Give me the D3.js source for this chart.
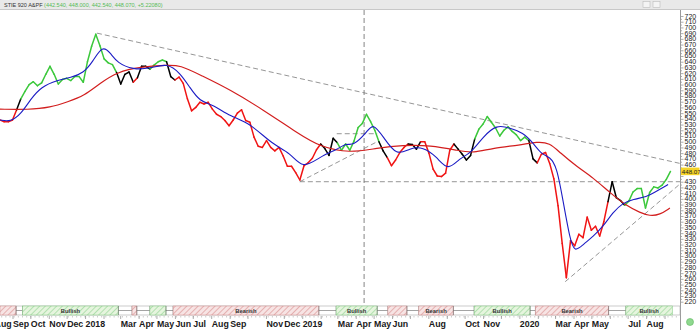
<!DOCTYPE html>
<html>
<head>
<meta charset="utf-8">
<script src="https://cdn.jsdelivr.net/npm/d3@7"></script>
<style>
  body { margin: 0; background: #fff; }
  svg { display: block; font-family: "Liberation Sans", Arial, sans-serif; }
</style>
</head>
<body>
<svg id="chart" width="700" height="330"></svg>
<script>
// weekly closes, first week ending 2017-08-11
const priceStart = "2017-08-11";
const priceWeekly = [
  538, 535, 535, 538, 556, 575, 588, 600, 605, 598,
  603, 618, 632, 618, 601, 609, 611, 607, 614, 614,
  604, 640, 667, 688, 668, 645, 638, 635, 621, 601,
  618, 622, 604, 612, 632, 632, 627, 634, 640, 643,
  640, 614, 608, 613, 602, 575, 554, 560, 569, 566,
  569, 557, 548, 544, 537, 528, 538, 550, 556, 537,
  534, 508, 492, 490, 502, 490, 484, 490, 475, 457,
  457, 446, 433, 458, 463, 471, 486, 496, 488, 476,
  506, 498, 485, 496, 485, 501, 525, 532, 548, 535,
  520, 500, 484, 472, 458, 468, 481, 490, 496, 495,
  487, 500, 500, 480, 452, 440, 439, 445, 485, 496,
  487, 478, 468, 476, 505, 522, 531, 544, 534, 524,
  510, 520, 526, 518, 512, 502, 508, 502, 470, 463,
  478, 481, 462, 435, 388, 322, 262, 327, 318, 338,
  332, 368, 345, 352, 335, 360, 395, 430, 402, 397,
  389, 396, 412, 418, 418, 384, 411, 421, 419, 424,
  434, 448
];

// trend regimes (start date, type) - each runs until the next one starts
const regimeStarts = [
  "2017-08-11", "2017-09-07", "2017-09-18", "2018-02-26", "2018-03-21",
  "2018-03-29", "2018-04-20", "2018-05-17", "2018-05-29", "2019-01-29",
  "2019-02-27", "2019-05-07", "2019-05-25", "2019-06-26", "2019-07-16",
  "2019-09-12", "2019-10-17", "2020-01-19", "2020-01-28", "2020-05-30",
  "2020-06-28"
];
const regimeTypes = [
  "bear", "flat", "bull", "flat", "bear",
  "flat", "bull", "flat", "bear", "flat",
  "bull", "flat", "bear", "flat", "bear",
  "flat", "bull", "flat", "bear", "flat",
  "bull"
];
const regimeEnd = "2020-09-14";

// long moving average (red)
const slowMaDates = [
  "2017-08-11", "2017-09-27", "2017-11-04", "2017-12-03", "2017-12-30",
  "2018-01-27", "2018-02-24", "2018-04-04", "2018-05-19", "2018-06-10",
  "2018-07-13", "2018-09-02", "2018-10-27", "2018-12-23", "2019-01-31",
  "2019-03-22", "2019-05-07", "2019-06-19", "2019-08-04", "2019-09-23",
  "2019-10-15", "2019-11-18", "2020-01-02", "2020-01-31", "2020-02-21",
  "2020-03-09", "2020-04-07", "2020-05-04", "2020-06-01", "2020-06-30",
  "2020-07-22", "2020-08-07", "2020-08-24", "2020-09-10"
];
const slowMaValues = [
  557, 556, 560, 570, 580,
  603, 622, 631, 634, 634,
  617, 591, 556, 516, 491,
  480, 489, 494, 494, 484,
  480, 489, 494, 500, 498,
  481, 456, 437, 411, 387,
  376, 370, 372, 384
];

// short moving average (blue)
const fastMaDates = [
  "2017-08-11", "2017-08-29", "2017-09-15", "2017-10-02", "2017-10-19",
  "2017-11-16", "2017-12-08", "2017-12-29", "2018-01-14", "2018-01-30",
  "2018-02-13", "2018-02-24", "2018-03-23", "2018-04-20", "2018-05-19",
  "2018-06-10", "2018-06-26", "2018-07-13", "2018-08-04", "2018-09-02",
  "2018-10-05", "2018-11-13", "2018-12-11", "2019-01-02", "2019-01-31",
  "2019-02-28", "2019-03-17", "2019-03-27", "2019-04-20", "2019-04-30",
  "2019-05-17", "2019-06-09", "2019-07-01", "2019-07-23", "2019-08-15",
  "2019-09-03", "2019-09-23", "2019-10-10", "2019-11-01", "2019-11-24",
  "2019-12-16", "2020-01-07", "2020-01-24", "2020-02-08", "2020-02-21",
  "2020-03-04", "2020-03-14", "2020-03-26", "2020-04-03", "2020-04-17",
  "2020-05-04", "2020-05-21", "2020-06-06", "2020-06-23", "2020-07-10",
  "2020-08-03", "2020-08-13", "2020-09-07"
];
const fastMaValues = [
  538, 535, 548, 575, 596,
  608, 612, 620, 640, 669,
  655, 638, 626, 628, 638,
  620, 595, 570, 565, 544,
  533, 494, 482, 451, 474,
  486, 498, 492, 517, 533,
  509, 474, 489, 491, 474,
  448, 472, 478, 509, 530,
  524, 516, 498, 477, 474,
  456, 399, 329, 306, 320,
  334, 352, 376, 393, 399,
  404, 410, 425
];

// hand drawn trend lines
const trendLines = [
  { from: ["2018-01-21", 690], to: ["2020-09-27", 462] },
  { from: ["2018-12-28", 430], to: ["2020-09-27", 430] },
  { from: ["2018-12-28", 430], to: ["2019-05-07", 500] },
  { from: ["2019-02-28", 514], to: ["2019-05-07", 514] },
  { from: ["2020-03-18", 255], to: ["2020-09-27", 426] }
];
const markerDate = "2019-04-15";

const yTicks = d3.range(220, 721, 10);
const monthTickDates = [
  "2017-08-01", "2017-09-01", "2017-10-01", "2017-11-01", "2017-12-01", "2018-01-01",
  "2018-03-01", "2018-04-01", "2018-05-01", "2018-06-01", "2018-07-01", "2018-08-01",
  "2018-09-01", "2018-11-01", "2018-12-01", "2019-01-01", "2019-03-01", "2019-04-01",
  "2019-05-01", "2019-06-01", "2019-08-01", "2019-10-01", "2019-11-01", "2020-01-01",
  "2020-03-01", "2020-04-01", "2020-05-01", "2020-07-01", "2020-08-01"
];
const monthTickLabels = [
  "Aug", "Sep", "Oct", "Nov", "Dec", "2018",
  "Mar", "Apr", "May", "Jun", "Jul", "Aug",
  "Sep", "Nov", "Dec", "2019", "Mar", "Apr",
  "May", "Jun", "Aug", "Oct", "Nov", "2020",
  "Mar", "Apr", "May", "Jul", "Aug"
];
const titleName = "STIE 920 A&PF";
const titleValues = "(442.540, 448.000, 442.540, 448.070, +5.22080)";
const lastValue = 448.07;

const parse = d3.timeParse("%Y-%m-%d");

// === CONFIG ===
const W = 700, H = 330;
const plotL = 0, plotR = 680, plotT = 10, plotB = 305;
const bandT = 306, bandB = 315;

const colors = { bull: "#3cc83c", bear: "#f01414", flat: "#000000" };

const svg = d3.select("#chart");

const x = d3.scaleTime()
  .domain([parse("2017-08-11"), parse("2020-09-27")])
  .range([plotL, plotR]);
const y = d3.scaleLinear()
  .domain([220, 720])
  .range([301.7, 16]);

// --- patterns for the regime band
const defs = svg.append("defs");
function hatch(id, bg, fg) {
  const p = defs.append("pattern")
    .attr("id", id)
    .attr("patternUnits", "userSpaceOnUse")
    .attr("width", 4).attr("height", 4)
    .attr("patternTransform", "rotate(45)");
  p.append("rect").attr("width", 4).attr("height", 4).attr("fill", bg);
  p.append("line").attr("x1", 0).attr("y1", 0).attr("x2", 0).attr("y2", 4)
    .attr("stroke", fg).attr("stroke-width", 1.4);
}
hatch("hatchBull", "#e6f5de", "#9cd89c");
hatch("hatchBear", "#f7e4e4", "#dc9a9a");

defs.append("clipPath").attr("id", "plotClip")
  .append("rect")
  .attr("x", plotL).attr("y", plotT)
  .attr("width", plotR - plotL).attr("height", plotB - plotT);

// --- header strip
svg.append("rect").attr("x", 0).attr("y", 0).attr("width", W).attr("height", 9)
  .attr("fill", "#e9e9e9");
svg.append("line").attr("x1", 0).attr("x2", W).attr("y1", 9.5).attr("y2", 9.5)
  .attr("stroke", "#c8c8c8");
const title = svg.append("text").attr("x", 4).attr("y", 7)
  .attr("font-size", 5.5);
title.append("tspan").attr("fill", "#333").text(titleName + " ");
title.append("tspan").attr("fill", "#55bb55").text(titleValues);
// window buttons top right
[643, 653].forEach(bx => {
  svg.append("rect").attr("x", bx).attr("y", 1.5).attr("width", 7).attr("height", 6)
    .attr("fill", "#f4f4f4").attr("stroke", "#bdbdbd").attr("stroke-width", 0.6);
});

// --- data objects
const prices = priceWeekly.map((v, i) => ({
  date: d3.timeWeek.offset(parse(priceStart), i),
  value: v
}));
const regimes = regimeStarts.map((s, i) => ({
  start: parse(s),
  end: parse(i + 1 < regimeStarts.length ? regimeStarts[i + 1] : regimeEnd),
  type: regimeTypes[i]
}));
function regimeAt(date) {
  const r = regimes.find(r => date >= r.start && date < r.end);
  return r ? r.type : regimes[regimes.length - 1].type;
}

const plot = svg.append("g").attr("clip-path", "url(#plotClip)");

// --- trend lines and marker
trendLines.forEach(t => {
  plot.append("line")
    .attr("x1", x(parse(t.from[0]))).attr("y1", y(t.from[1]))
    .attr("x2", x(parse(t.to[0]))).attr("y2", y(t.to[1]))
    .attr("stroke", "#8a8a8a").attr("stroke-width", 0.9)
    .attr("stroke-dasharray", "5,3");
});
plot.append("line")
  .attr("x1", x(parse(markerDate))).attr("x2", x(parse(markerDate)))
  .attr("y1", plotT).attr("y2", plotB)
  .attr("stroke", "#777").attr("stroke-width", 0.9)
  .attr("stroke-dasharray", "5,3");

// --- moving averages
const maLine = d3.line()
  .x(d => x(d.date)).y(d => y(d.value))
  .curve(d3.curveBasis);
const slowMa = slowMaDates.map((d, i) => ({ date: parse(d), value: slowMaValues[i] }));
const fastMa = fastMaDates.map((d, i) => ({ date: parse(d), value: fastMaValues[i] }));

// --- price, coloured by regime
const segs = d3.pairs(prices);
plot.append("g").selectAll("line")
  .data(segs)
  .join("line")
    .attr("x1", d => x(d[0].date)).attr("y1", d => y(d[0].value))
    .attr("x2", d => x(d[1].date)).attr("y2", d => y(d[1].value))
    .attr("stroke", d => colors[regimeAt(new Date((+d[0].date + +d[1].date) / 2))])
    .attr("stroke-width", 1.5)
    .attr("stroke-linecap", "round");

plot.append("path").datum(slowMa)
  .attr("d", maLine).attr("fill", "none")
  .attr("stroke", "#d21e1e").attr("stroke-width", 1.2);
plot.append("path").datum(fastMa)
  .attr("d", maLine).attr("fill", "none")
  .attr("stroke", "#1c1cc4").attr("stroke-width", 1.1);

// --- right axis
const axis = svg.append("g");
axis.append("line").attr("x1", plotR + 0.5).attr("x2", plotR + 0.5)
  .attr("y1", plotT).attr("y2", H).attr("stroke", "#9a9a9a");
d3.range(220, 721, 5).forEach(v => {
  axis.append("line")
    .attr("x1", plotR + 1).attr("x2", plotR + (v % 10 === 0 ? 3.5 : 2))
    .attr("y1", y(v) + 0.5).attr("y2", y(v) + 0.5)
    .attr("stroke", "#777").attr("stroke-width", 0.6);
});
// labels hidden behind the last value flag are left out, as in the source
axis.selectAll("text.ytick")
  .data(yTicks.filter(v => Math.abs(v - lastValue) > 9))
  .join("text")
    .attr("class", "ytick")
    .attr("x", plotR + 4.5).attr("y", d => y(d) + 2.5)
    .attr("font-size", 7).attr("fill", "#222")
    .text(d => d);

// last value flag
const lv = axis.append("g").attr("transform", `translate(${plotR + 1},${y(lastValue)})`);
lv.append("rect").attr("x", 0).attr("y", -3.8).attr("width", 18.5).attr("height", 7.6)
  .attr("fill", "#f5d327");
lv.append("text").attr("x", 0.8).attr("y", 2.3).attr("font-size", 6.2)
  .attr("fill", "#222").text(lastValue.toFixed(2));

// --- regime band
const band = svg.append("g");
band.append("rect").attr("x", plotL).attr("y", bandT)
  .attr("width", plotR - plotL).attr("height", bandB - bandT)
  .attr("fill", "#fff").attr("stroke", "#a8a8a8").attr("stroke-width", 0.6);
regimes.forEach(r => {
  const x0 = Math.max(plotL, x(r.start)), x1 = x(r.end);
  if (r.type === "flat") {
    band.append("line").attr("x1", x0).attr("x2", x1)
      .attr("y1", (bandT + bandB) / 2).attr("y2", (bandT + bandB) / 2)
      .attr("stroke", "#666").attr("stroke-width", 0.6);
    [x0, x1].forEach(xx => band.append("line")
      .attr("x1", xx).attr("x2", xx).attr("y1", bandT).attr("y2", bandB)
      .attr("stroke", "#666").attr("stroke-width", 0.6));
    return;
  }
  band.append("rect").attr("x", x0).attr("y", bandT)
    .attr("width", x1 - x0).attr("height", bandB - bandT)
    .attr("fill", r.type === "bull" ? "url(#hatchBull)" : "url(#hatchBear)")
    .attr("stroke", r.type === "bull" ? "#7cc77c" : "#d08a8a")
    .attr("stroke-width", 0.5);
  if (x1 - x0 > 25) {
    band.append("text")
      .attr("x", (x0 + x1) / 2).attr("y", bandB - 2.5)
      .attr("text-anchor", "middle")
      .attr("font-size", 5.8).attr("font-weight", "bold")
      .attr("fill", "#333")
      .text(r.type === "bull" ? "Bullish" : "Bearish");
  }
});

// --- time axis
const tAxis = svg.append("g");
d3.timeWeek.range(x.domain()[0], x.domain()[1]).forEach(d => {
  tAxis.append("line").attr("x1", x(d) + 0.5).attr("x2", x(d) + 0.5)
    .attr("y1", bandB + 1).attr("y2", bandB + 2.5)
    .attr("stroke", "#999").attr("stroke-width", 0.5);
});
d3.timeMonth.range(x.domain()[0], x.domain()[1]).forEach(d => {
  tAxis.append("line").attr("x1", x(d) + 0.5).attr("x2", x(d) + 0.5)
    .attr("y1", bandB + 1).attr("y2", bandB + 4)
    .attr("stroke", "#777").attr("stroke-width", 0.6);
});
tAxis.selectAll("text")
  .data(monthTickDates.map((d, i) => ({ date: parse(d), label: monthTickLabels[i] })))
  .join("text")
    .attr("x", d => x(d.date) + 0.5).attr("y", 327)
    .attr("font-size", 8.8).attr("font-weight", "bold")
    .attr("font-family", "'Liberation Sans Narrow', 'Liberation Sans', Arial, sans-serif")
    .attr("fill", "#1a1a1a")
    .text(d => d.label);

// small status icon bottom right
svg.append("circle").attr("cx", 690).attr("cy", 322).attr("r", 3.5)
  .attr("fill", "#8fd88f").attr("stroke", "#5fb85f").attr("stroke-width", 0.6);
</script>
</body>
</html>
